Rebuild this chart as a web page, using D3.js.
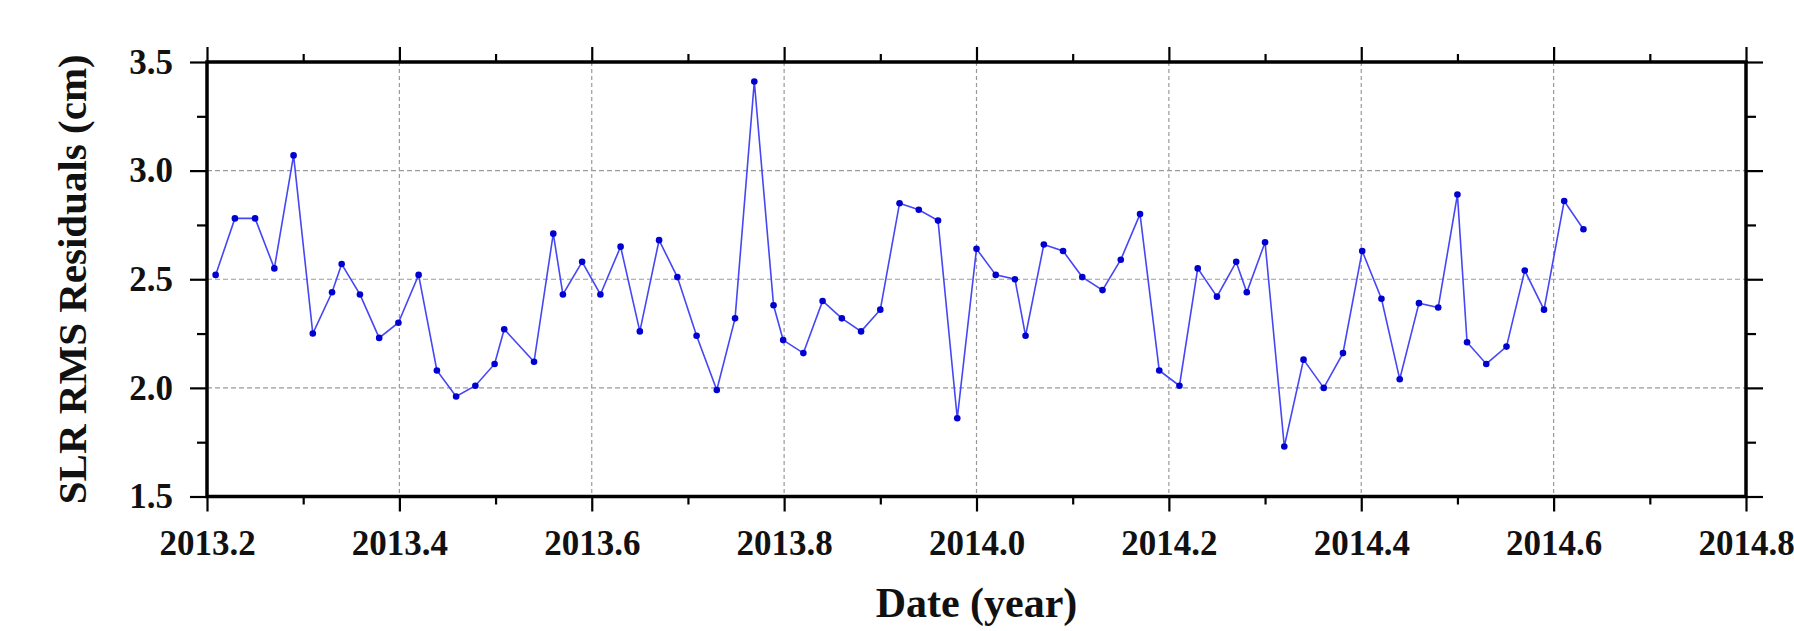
<!DOCTYPE html>
<html>
<head>
<meta charset="utf-8">
<script src="https://cdn.jsdelivr.net/npm/d3@7"></script>
<style>
  body { margin: 0; background: #fff; }
  text { font-family: "Liberation Serif", "Times New Roman", serif; font-weight: bold; fill: #111; }
</style>
</head>
<body>
<div id="chart"></div>
<script>
// data
var dates = [2013.209, 2013.229, 2013.250, 2013.270, 2013.290, 2013.310, 2013.330, 2013.340, 2013.359, 2013.379,
             2013.399, 2013.420, 2013.439, 2013.459, 2013.479, 2013.499, 2013.509, 2013.540, 2013.560, 2013.570,
             2013.590, 2013.609, 2013.630, 2013.650, 2013.670, 2013.689, 2013.709, 2013.730, 2013.749, 2013.769,
             2013.789, 2013.799, 2013.820, 2013.840, 2013.860, 2013.880, 2013.900, 2013.920, 2013.940, 2013.960,
             2013.980, 2014.000, 2014.020, 2014.040, 2014.051, 2014.070, 2014.090, 2014.110, 2014.131, 2014.150,
             2014.170, 2014.190, 2014.211, 2014.230, 2014.250, 2014.270, 2014.281, 2014.300, 2014.320, 2014.340,
             2014.361, 2014.381, 2014.401, 2014.421, 2014.440, 2014.460, 2014.480, 2014.500, 2014.510, 2014.530,
             2014.551, 2014.570, 2014.590, 2014.611, 2014.631];
var rms = [2.52, 2.78, 2.78, 2.55, 3.07, 2.25, 2.44, 2.57, 2.43, 2.23,
           2.30, 2.52, 2.08, 1.96, 2.01, 2.11, 2.27, 2.12, 2.71, 2.43,
           2.58, 2.43, 2.65, 2.26, 2.68, 2.51, 2.24, 1.99, 2.32, 3.41,
           2.38, 2.22, 2.16, 2.40, 2.32, 2.26, 2.36, 2.85, 2.82, 2.77,
           1.86, 2.64, 2.52, 2.50, 2.24, 2.66, 2.63, 2.51, 2.45, 2.59,
           2.80, 2.08, 2.01, 2.55, 2.42, 2.58, 2.44, 2.67, 1.73, 2.13,
           2.00, 2.16, 2.63, 2.41, 2.04, 2.39, 2.37, 2.89, 2.21, 2.11,
           2.19, 2.54, 2.36, 2.86, 2.73];

var xMajor = [2013.2, 2013.4, 2013.6, 2013.8, 2014.0, 2014.2, 2014.4, 2014.6, 2014.8];
var xLabels = ["2013.2", "2013.4", "2013.6", "2013.8", "2014.0", "2014.2", "2014.4", "2014.6", "2014.8"];
var xMinor = [2013.3, 2013.5, 2013.7, 2013.9, 2014.1, 2014.3, 2014.5, 2014.7];
var yMajor = [1.5, 2.0, 2.5, 3.0, 3.5];
var yLabels = ["1.5", "2.0", "2.5", "3.0", "3.5"];
var yMinor = [1.75, 2.25, 2.75, 3.25];

// set the dimensions and margins of the graph
var margin = {top: 62, right: 48, bottom: 134.5, left: 207},
    width = 1794 - margin.left - margin.right,
    height = 631 - margin.top - margin.bottom;

var svg = d3.select("#chart")
  .append("svg")
    .attr("width", 1794)
    .attr("height", 631)
  .append("g")
    .attr("transform", "translate(" + margin.left + "," + margin.top + ")");

var x = d3.scaleLinear().domain([2013.2, 2014.8]).range([0, width]);
var y = d3.scaleLinear().domain([1.5, 3.5]).range([height, 0]);

// grid lines (dashed, inner majors only)
svg.selectAll("vgrid")
  .data(xMajor.slice(1, -1))
  .enter()
  .append("line")
    .attr("x1", function(d) { return x(d); })
    .attr("x2", function(d) { return x(d); })
    .attr("y1", 0)
    .attr("y2", height)
    .attr("stroke", "#9a9a9a")
    .attr("stroke-width", 1.2)
    .style("stroke-dasharray", "4, 3");

svg.selectAll("hgrid")
  .data(yMajor.slice(1, -1))
  .enter()
  .append("line")
    .attr("x1", 0)
    .attr("x2", width)
    .attr("y1", function(d) { return y(d); })
    .attr("y2", function(d) { return y(d); })
    .attr("stroke", "#9a9a9a")
    .attr("stroke-width", 1.2)
    .style("stroke-dasharray", "5, 3");

// axes: major ticks with labels, minor ticks, mirrored on top/right
function styleAxis(g) {
  g.select(".domain").remove();
  g.selectAll(".tick line").attr("stroke", "#000").attr("stroke-width", 2.2);
}

svg.append("g")
  .attr("transform", "translate(0," + height + ")")
  .call(d3.axisBottom(x).tickValues(xMajor).tickSize(15).tickPadding(19)
          .tickFormat(function(d, i) { return xLabels[i]; }))
  .call(styleAxis)
  .selectAll("text")
    .attr("font-size", "35px")
    .attr("font-family", null)
    .attr("fill", "#111");

svg.append("g")
  .attr("transform", "translate(0," + height + ")")
  .call(d3.axisBottom(x).tickValues(xMinor).tickSize(8).tickFormat(""))
  .call(styleAxis);

svg.append("g")
  .call(d3.axisTop(x).tickValues(xMajor).tickSize(15).tickFormat(""))
  .call(styleAxis);

svg.append("g")
  .call(d3.axisTop(x).tickValues(xMinor).tickSize(8).tickFormat(""))
  .call(styleAxis);

svg.append("g")
  .call(d3.axisLeft(y).tickValues(yMajor).tickSize(17).tickPadding(17)
          .tickFormat(function(d, i) { return yLabels[i]; }))
  .call(styleAxis)
  .selectAll("text")
    .attr("font-size", "35px")
    .attr("font-family", null)
    .attr("fill", "#111");

svg.append("g")
  .call(d3.axisLeft(y).tickValues(yMinor).tickSize(10).tickFormat(""))
  .call(styleAxis);

svg.append("g")
  .attr("transform", "translate(" + width + ",0)")
  .call(d3.axisRight(y).tickValues(yMajor).tickSize(17).tickFormat(""))
  .call(styleAxis);

svg.append("g")
  .attr("transform", "translate(" + width + ",0)")
  .call(d3.axisRight(y).tickValues(yMinor).tickSize(10).tickFormat(""))
  .call(styleAxis);

// frame
svg.append("rect")
  .attr("x", 0)
  .attr("y", 0)
  .attr("width", width)
  .attr("height", height)
  .attr("fill", "none")
  .attr("stroke", "#000")
  .attr("stroke-width", 3.5);

// the series
var points = dates.map(function(d, i) { return {date: d, value: rms[i]}; });

svg.append("path")
  .datum(points)
  .attr("fill", "none")
  .attr("stroke", "#4646f5")
  .attr("stroke-width", 1.6)
  .attr("d", d3.line()
    .x(function(d) { return x(d.date); })
    .y(function(d) { return y(d.value); }));

svg.selectAll("mycircle")
  .data(points)
  .enter()
  .append("circle")
    .attr("cx", function(d) { return x(d.date); })
    .attr("cy", function(d) { return y(d.value); })
    .attr("r", 3.3)
    .style("fill", "#0000d0");

// axis titles
svg.append("text")
  .attr("x", width / 2)
  .attr("y", 617 - margin.top)
  .attr("text-anchor", "middle")
  .attr("font-size", "42px")
  .text("Date (year)");

svg.append("text")
  .attr("transform", "translate(" + (86 - margin.left) + "," + (height / 2) + ") rotate(-90)")
  .attr("text-anchor", "middle")
  .attr("font-size", "41px")
  .text("SLR RMS Residuals (cm)");
</script>
</body>
</html>
